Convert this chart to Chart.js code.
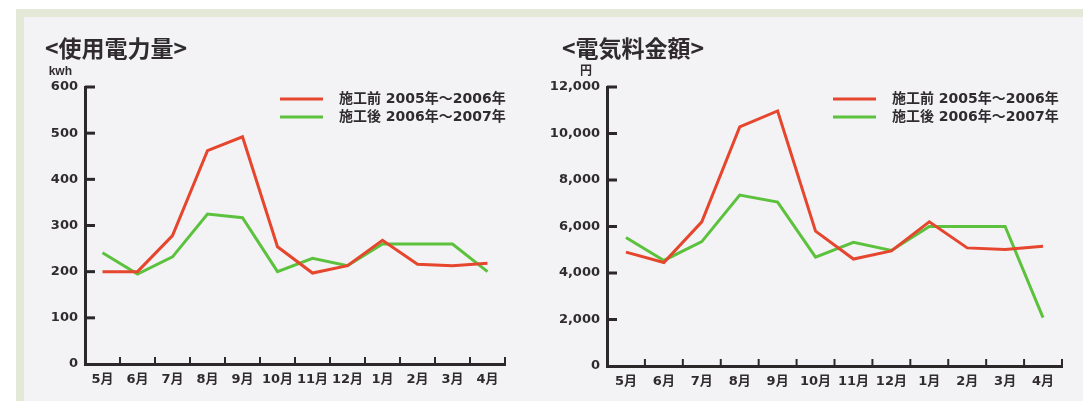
<!DOCTYPE html>
<html>
<head>
<meta charset="utf-8">
<script src="https://cdn.jsdelivr.net/npm/chart.js@4.4.1/dist/chart.umd.min.js"></script>
<style>
  html, body { margin: 0; padding: 0; background: #ffffff; }
  #page { position: relative; width: 1083px; height: 401px; overflow: hidden; background: #ffffff; }
  #frame { position: absolute; left: 16px; top: 9px; right: 0; bottom: 0; background: #e3e8d7; }
  #panel { position: absolute; left: 24px; top: 17px; right: 0; bottom: 0; background: #f3f3f6; }
  .box { position: absolute; top: 18px; height: 383px; }
  canvas { display: block; }
</style>
</head>
<body>
<div id="page">
  <div id="frame"></div>
  <div id="panel"></div>
  <div class="box" style="left:24px;width:516px"><canvas id="kwhChart" width="516" height="383"></canvas></div>
  <div class="box" style="left:540px;width:543px"><canvas id="yenChart" width="543" height="383"></canvas></div>
</div>
<script>
// Months of the fiscal year (May to April)
const months = ['5月', '6月', '7月', '8月', '9月', '10月', '11月', '12月', '1月', '2月', '3月', '4月'];

// Series labels
const labelBefore = '施工前 2005年～2006年';
const labelAfter  = '施工後 2006年～2007年';

// Electricity used (kWh)
const kwhBefore = [200, 200, 278, 462, 492, 254, 197, 213, 268, 216, 213, 218];
const kwhAfter  = [241, 195, 232, 325, 317, 200, 229, 213, 260, 260, 260, 200];

// Electricity bill (yen)
const yenBefore = [4900, 4450, 6200, 10280, 10970, 5800, 4600, 4950, 6200, 5080, 5010, 5150];
const yenAfter  = [5530, 4540, 5350, 7350, 7050, 4680, 5320, 4970, 6000, 6000, 6000, 2080];

// Value axis ranges
const kwhAxis = { min: 0, max: 600, step: 100 };
const yenAxis = { min: 0, max: 12000, step: 2000 };

const RED = '#e5462d';
const GREEN = '#5cc23d';
const INK = '#2c2729';
const TEXT = '#2f2b2e';
const FONT = "'DejaVu Sans', 'Noto Sans CJK JP', sans-serif";
const UNIT_FONT = "'Liberation Sans', 'Noto Sans CJK JP', sans-serif";
const CJK = "'Noto Sans CJK JP', sans-serif";

// Draws the heading, unit, inward tick marks and the legend
const decor = {
  id: 'decor',
  afterDraw(chart, args, opts) {
    const ctx = chart.ctx;
    const area = chart.chartArea;
    const xs = chart.scales.x;
    const ys = chart.scales.y;
    ctx.save();

    // heading
    ctx.fillStyle = TEXT;
    ctx.font = 'bold 23px ' + CJK;
    ctx.textAlign = 'left';
    ctx.textBaseline = 'middle';
    ctx.fillText(opts.title, opts.titleX, 30);

    // unit above the value axis
    ctx.font = 'bold 12px ' + UNIT_FONT;
    ctx.textAlign = 'right';
    ctx.fillText(opts.unit, area.left - opts.unitGap, area.top - 15);

    // tick marks pointing into the plot
    ctx.strokeStyle = INK;
    ctx.lineWidth = 3;
    ctx.lineCap = 'butt';
    ys.ticks.forEach((t, i) => {
      const y = ys.getPixelForTick(i);
      if (i === 0) return;
      ctx.beginPath();
      ctx.moveTo(area.left, y);
      ctx.lineTo(area.left + 10, y);
      ctx.stroke();
    });
    const n = chart.data.labels.length;
    ctx.lineWidth = 2;
    for (let i = 1; i <= n; i++) {
      const x = xs.left + i * xs.width / n;
      ctx.beginPath();
      ctx.moveTo(x, area.bottom);
      ctx.lineTo(x, area.bottom - 7);
      ctx.stroke();
    }

    // legend
    ctx.font = 'bold 14px ' + FONT;
    ctx.textAlign = 'left';
    ctx.textBaseline = 'middle';
    chart.data.datasets.forEach((ds, i) => {
      const x0 = area.right - opts.legendRight;
      const y = area.top + 12 + i * 18;
      ctx.strokeStyle = ds.borderColor;
      ctx.lineWidth = 3;
      ctx.beginPath();
      ctx.moveTo(x0, y);
      ctx.lineTo(x0 + 43, y);
      ctx.stroke();
      ctx.fillStyle = TEXT;
      ctx.fillText(ds.label, x0 + 59, y);
    });
    ctx.restore();
  }
};

function makeChart(id, before, after, axis, deco, geom) {
  return new Chart(document.getElementById(id), {
    type: 'line',
    data: {
      labels: months,
      datasets: [
        { label: labelBefore, data: before, borderColor: RED, backgroundColor: RED },
        { label: labelAfter, data: after, borderColor: GREEN, backgroundColor: GREEN }
      ]
    },
    plugins: [decor],
    options: {
      responsive: false,
      animation: false,
      devicePixelRatio: 1,
      layout: { padding: { left: 0, right: geom.padRight, top: 69, bottom: 0 } },
      elements: {
        line: { tension: 0, borderWidth: 3, borderCapStyle: 'butt', borderJoinStyle: 'miter' },
        point: { radius: 0, hoverRadius: 0 }
      },
      plugins: {
        legend: { display: false },
        title: { display: false },
        tooltip: { enabled: false },
        decor: deco
      },
      scales: {
        x: {
          type: 'category',
          offset: true,
          grid: { display: false, drawTicks: false },
          border: { display: true, color: INK, width: 3 },
          ticks: { color: TEXT, font: { family: FONT, size: 13, weight: 'bold' }, padding: 8, maxRotation: 0, autoSkip: false },
          afterFit(s) { s.height = geom.xHeight; }
        },
        y: {
          min: axis.min,
          max: axis.max,
          grid: { display: false, drawTicks: false },
          border: { display: true, color: INK, width: 3 },
          ticks: {
            stepSize: axis.step,
            color: TEXT,
            padding: 7,
            font: { family: FONT, size: 13, weight: 'bold' },
            callback: v => v.toLocaleString('en-US')
          },
          afterFit(s) { s.width = geom.yWidth; }
        }
      }
    }
  });
}

makeChart('kwhChart', kwhBefore, kwhAfter, kwhAxis,
  { title: '<使用電力量>', titleX: 21, unit: 'kwh', unitGap: 13, legendRight: 225 },
  { yWidth: 61, padRight: 35, xHeight: 37 });

makeChart('yenChart', yenBefore, yenAfter, yenAxis,
  { title: '<電気料金額>', titleX: 22, unit: '円', unitGap: 15, legendRight: 229 },
  { yWidth: 67, padRight: 21, xHeight: 35 });
</script>
</body>
</html>
